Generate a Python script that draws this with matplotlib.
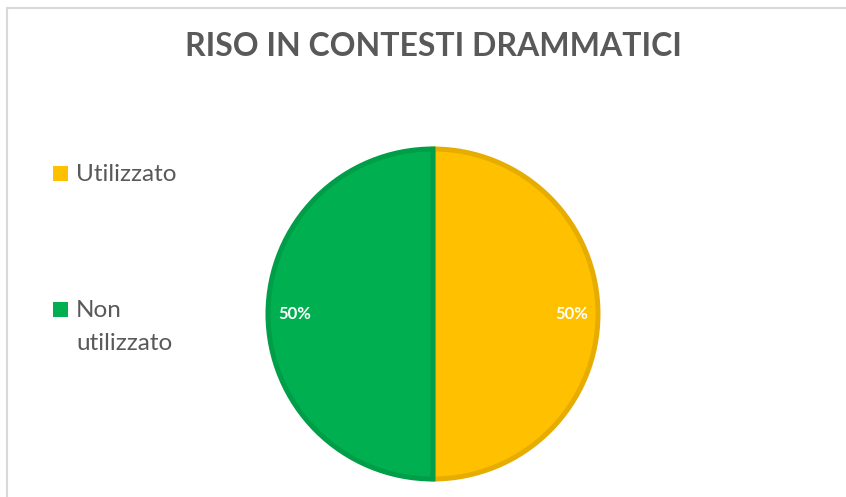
import matplotlib.pyplot as plt
from matplotlib.patches import Rectangle
from matplotlib.lines import Line2D

labels = ["Utilizzato", "Non utilizzato"]
legend_lines = [["Utilizzato"], ["Non", "utilizzato"]]
values = [50, 50]
fill_colors = ["#FFC000", "#00B050"]
edge_colors = ["#E6AD00", "#009E48"]

W, H = 846, 497
fig = plt.figure(figsize=(W / 100, H / 100), dpi=100)
fig.patch.set_facecolor("white")

# thin gray frame on top and left edge
fig.add_artist(Line2D([7 / W, 7 / W], [0, 1 - 8 / H], color="#D9D9D9", lw=1.5))
fig.add_artist(Line2D([7 / W, 1], [1 - 8 / H, 1 - 8 / H], color="#D9D9D9", lw=1.5))

fig.text(433 / W, 1 - 47 / H, "RISO IN CONTESTI DRAMMATICI", ha="center", va="center",
         fontsize=23, fontweight="bold", color="#595959", family="Lato")

# pie
cx, cy, r = 433, 314, 165
ax = fig.add_axes([(cx - r) / W, (H - cy - r) / H, 2 * r / W, 2 * r / H])
wedges, texts, autotexts = ax.pie(
    values, colors=fill_colors, startangle=90, counterclock=False,
    autopct="%1.0f%%", pctdistance=0.84,
    wedgeprops=dict(linewidth=3.6),
    textprops=dict(color="white", fontsize=12, fontweight="bold", family="Lato"))
for w, ec in zip(wedges, edge_colors):
    w.set_edgecolor(ec)
ax.set_xlim(-1, 1)
ax.set_ylim(-1, 1)
ax.set_aspect("equal")
ax.axis("off")

# legend (square + text lines, baseline positions in pixels from top)
legend_base = [181, 317]
line_gap = 33
for lines, col, base in zip(legend_lines, fill_colors, legend_base):
    fig.add_artist(Rectangle((53 / W, 1 - base / H), 15 / W, 15 / H,
                             facecolor=col, edgecolor="none", transform=fig.transFigure))
    for i, txt in enumerate(lines):
        fig.text(76 / W, 1 - (base + i * line_gap) / H, txt, ha="left", va="baseline",
                 fontsize=17.5, color="#595959", family="Lato")

fig.savefig("out.png", dpi=100)
